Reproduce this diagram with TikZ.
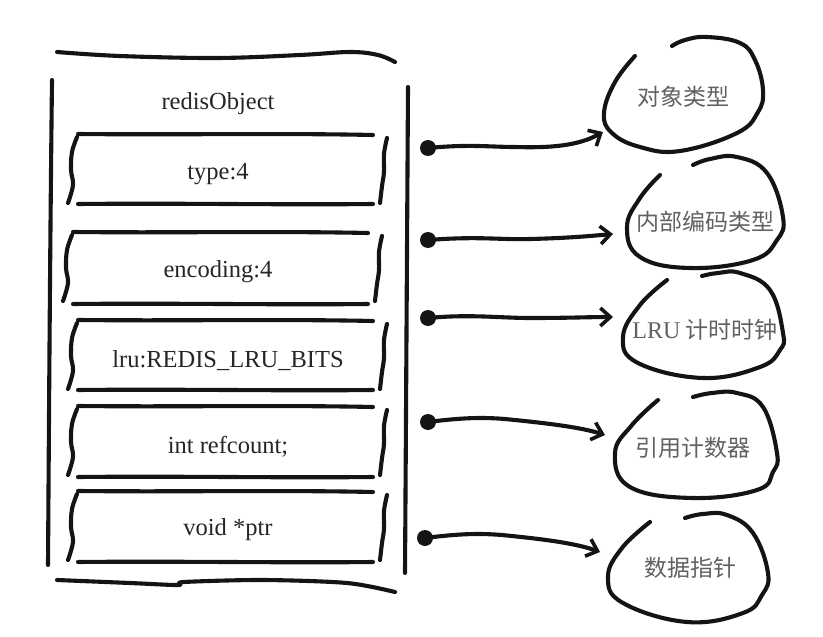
\documentclass[tikz,border=0pt]{standalone}
\usepackage{fontspec}
\setmainfont{Liberation Serif}
\newfontfamily\cjk{Noto Sans CJK SC}
\usetikzlibrary{arrows.meta}
\begin{document}
\begin{tikzpicture}[x=1pt,y=-1pt,
  ink/.style={line width=4.1pt, line cap=round, line join=round, draw=black!92},
  lbl/.style={font=\fontsize{24.5}{28}\selectfont, anchor=base, inner sep=0pt, text=black!85},
  cn/.style={font=\cjk\fontsize{23}{27}\selectfont, text=black!62, inner sep=0pt},
  dot/.style={circle, fill=black!92, inner sep=0pt, minimum size=16pt},
  link/.style={ink, -{Straight Barb[length=10pt,width=18pt,line width=3.6pt]}},
]
\useasboundingbox (0,0) rectangle (823,637);
% outer frame
\draw[ink] plot[smooth, tension=0.6] coordinates {(57,52) (120,56) (217,58) (300,55) (350,52) (378,55) (395,62)};
\draw[ink] (52,80) .. controls (50,250) and (49,420) .. (48,565);
\draw[ink] (408,87) .. controls (407,250) and (406,420) .. (405,573);
\draw[ink] plot[smooth, tension=0.5] coordinates {(57,580) (130,583) (178,585) (184,582) (263,580) (347,583) (395,592)};
% fields
\foreach \t/\b/\dx in {134/204/0, 232/304/-5, 320/390/0, 406/477/0, 491/562/0}{
  \draw[ink] ({78+\dx},\t) .. controls ({180+\dx},{\t+1}) and ({280+\dx},{\t-1}) .. ({373+\dx},{\t+1});
  \draw[ink] ({78+\dx},\b) .. controls ({180+\dx},{\b-1}) and ({280+\dx},{\b+1}) .. ({373+\dx},\b);
  \draw[ink] plot[smooth, tension=0.6] coordinates {({77+\dx},{\t+3}) ({72+\dx},{\t+18}) ({71+\dx},{\t+36}) ({73+\dx},{\t+51}) ({68+\dx},{\t+69})};
  \draw[ink] plot[smooth, tension=0.6] coordinates {({387+\dx},{\t+4}) ({384+\dx},{\t+20}) ({384+\dx},{\t+38}) ({382+\dx},{\t+52}) ({380+\dx},{\t+69})};
}
% texts
\node[lbl] (title) at (218,109) {redisObject};
\node[lbl] (f1) at (218,179) {type:4};
\node[lbl] (f2) at (218,277) {encoding:4};
\node[lbl] (f3) at (228,367) {lru:REDIS\_LRU\_BITS};
\node[lbl] (f4) at (228,453) {int refcount;};
\node[lbl] (f5) at (228,535) {void *ptr};
% blobs
\draw[ink] plot[smooth, tension=0.7] coordinates {(635,56) (615,82) (604,113) (612,133) (640,147) (680,151) (737,133) (758,112) (763,90) (755,60) (740,43) (707,37) (685,40) (672,46)};
\draw[ink] plot[smooth, tension=0.7] coordinates {(660,175) (640,198) (627,227) (640,257) (690,268) (753,260) (777,240) (783,217) (767,173) (737,157) (710,159) (693,165)};
\draw[ink] plot[smooth, tension=0.7] coordinates {(667,280) (640,305) (623,337) (638,363) (703,378) (760,367) (780,350) (783,333) (770,290) (740,273) (718,273) (702,276)};
\draw[ink] plot[smooth, tension=0.7] coordinates {(658,400) (632,425) (615,453) (630,487) (693,498) (757,490) (773,472) (777,453) (763,407) (737,393) (712,393) (693,397)};
\draw[ink] plot[smooth, tension=0.7] coordinates {(650,522) (622,548) (608,577) (623,603) (687,622) (743,613) (762,595) (768,573) (753,533) (727,515) (703,514) (685,518)};
\node[cn] (b1) at (683,97) {对象类型};
\node[cn] (b2) at (705,222) {内部编码类型};
\node[cn] (b3) at (705,330) {{\rmfamily\fontsize{24}{28}\selectfont LRU} 计时时钟};
\node[cn] (b4) at (693,448) {引用计数器};
\node[cn] (b5) at (690,568) {数据指针};
% dots and arrows
\node[dot] (d1) at (428,148) {};
\node[dot] (d2) at (428,240) {};
\node[dot] (d3) at (428,318) {};
\node[dot] (d4) at (428,422) {};
\node[dot] (d5) at (425,538) {};
\coordinate (t1) at (603,132);
\coordinate (t2) at (613,234);
\coordinate (t3) at (613,317);
\coordinate (t4) at (605,435);
\coordinate (t5) at (600,552);
\draw[link] (d1.center) .. controls (470,144) and (490,147) .. (515,147) .. controls (550,148) and (578,146) .. (t1);
\draw[link] (d2.center) .. controls (480,236) and (500,240) .. (530,239) .. controls (570,238) and (590,236) .. (t2);
\draw[link] (d3.center) .. controls (470,314) and (500,318) .. (530,318) .. controls (570,318) and (590,317) .. (t3);
\draw[link] (d4.center) .. controls (460,418) and (480,417) .. (505,419) .. controls (545,423) and (580,427) .. (t4);
\draw[link] (d5.center) .. controls (457,534) and (477,533) .. (502,535) .. controls (542,539) and (575,543) .. (t5);
\end{tikzpicture}
\end{document}
